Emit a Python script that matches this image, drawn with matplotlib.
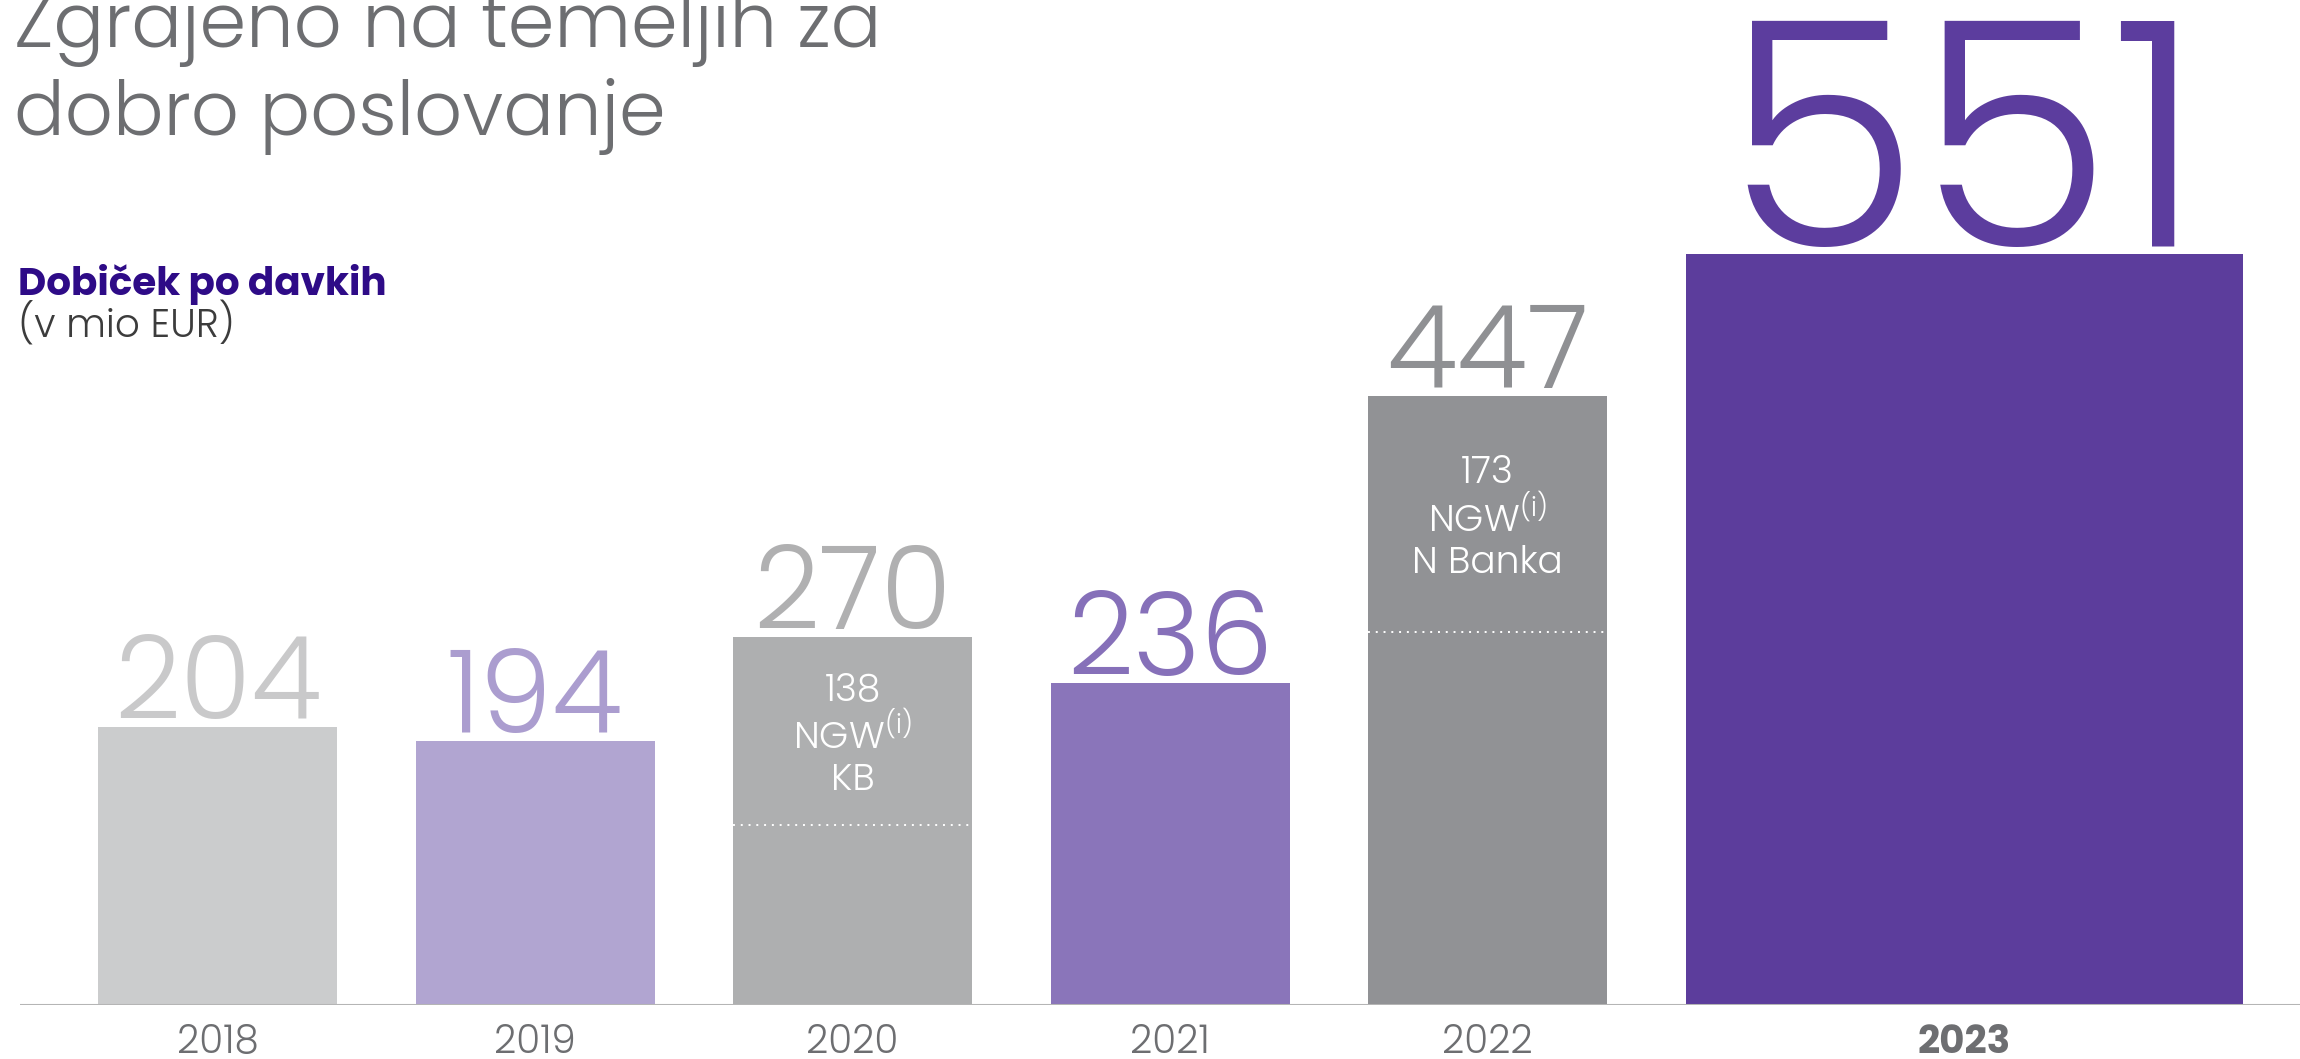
import matplotlib.pyplot as plt

# data
years = ['2018', '2019', '2020', '2021', '2022', '2023']
profit = [204, 194, 270, 236, 447, 551]
ngw_value = [0, 0, 138, 0, 173, 0]
ngw_name = ['', '', 'KB', '', 'N Banka', '']

bar_colors = ['#cbcccd', '#b1a5d1', '#aeafb0', '#8a75ba', '#919295', '#5c3d9c']
label_colors = ['#c9c9ca', '#ab9dcf', '#b0b0b1', '#8670b9', '#8f9093', '#5c3d9e']

plt.rcParams['font.family'] = ['Poppins', 'DejaVu Sans']

W, H = 2300, 1059
fig = plt.figure(figsize=(W / 100, H / 100), dpi=100)

# axes: baseline at 1005 px from top, 1.363 px per unit
base_px = 1005
px_per_unit = 1.363
ax = fig.add_axes([20 / W, (H - base_px) / H, (W - 20) / W, base_px / H])
ax.set_ylim(0, base_px / px_per_unit)
slot = 317.5
ax.set_xlim((20 - 98) / slot, (2300 - 98) / slot)
ax.axis('off')

lefts = list(range(len(years)))
widths = [0.753] * 5 + [1.755]
ax.bar(lefts, profit, width=widths, align='edge', color=bar_colors, zorder=2)
ax.axhline(0, color='#b5b5b5', lw=2.2, zorder=3)

for i, (yr, v) in enumerate(zip(years, profit)):
    cx = lefts[i] + widths[i] / 2
    big = 226 if yr == '2023' else 83
    ax.annotate(str(v), xy=(cx, v), xytext=(0, 8), textcoords='offset pixels',
                ha='center', va='baseline', fontsize=big, fontweight=300,
                color=label_colors[i])
    ax.annotate(yr, xy=(cx, 0), xytext=(0, -48), textcoords='offset pixels',
                ha='center', va='baseline', fontsize=28,
                fontweight='bold' if yr == '2023' else 300,
                color='#6d6e71')
    if ngw_value[i]:
        split = v - ngw_value[i]
        ax.plot([lefts[i], lefts[i] + widths[i]], [split, split],
                color='white', lw=1.4, ls=(0, (1, 3)), zorder=4)
        ax.text(cx, (split + v) / 2 - 4,
                '%d\nNGW$^{\\mathregular{(i)}}$\n%s' % (ngw_value[i], ngw_name[i]),
                ha='center', va='center', fontsize=27, fontweight=300,
                color='white', linespacing=1.12, zorder=5)

# headings
fig.text(14 / W, 1 - 47 / H, 'Zgrajeno na temeljih za', fontsize=54,
         fontweight=300, color='#6d6e71', va='baseline')
fig.text(14 / W, 1 - 135 / H, 'dobro poslovanje', fontsize=54,
         fontweight=300, color='#6d6e71', va='baseline')
fig.text(18 / W, 1 - 295 / H, 'Dobiček po davkih', fontsize=28,
         fontweight='bold', color='#2e0b87', va='baseline')
fig.text(18 / W, 1 - 337 / H, '(v mio EUR)', fontsize=28, fontweight=300,
         color='#3c3c3c', va='baseline')

fig.savefig('out.png', dpi=100)
